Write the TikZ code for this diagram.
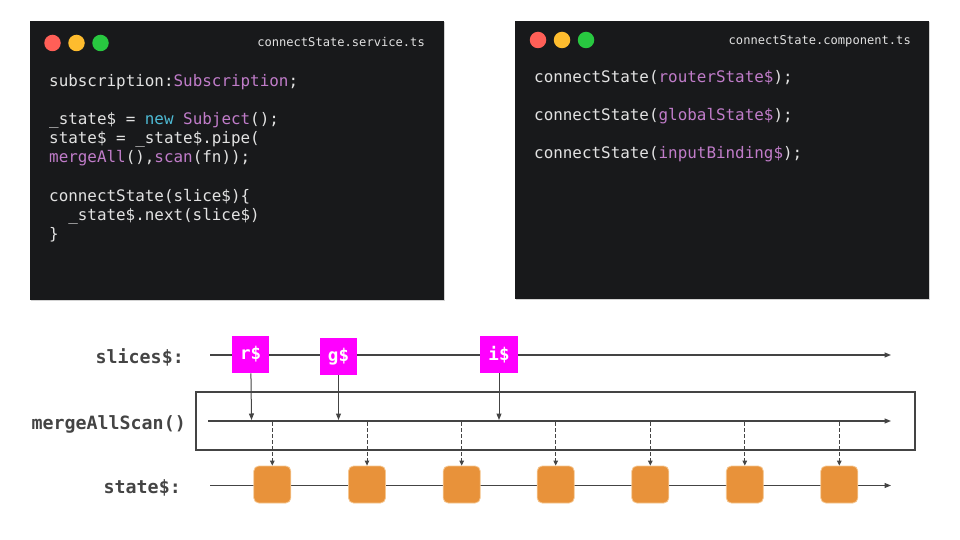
\documentclass[tikz,border=0pt]{standalone}
\usepackage{fontspec}
\usepackage{xcolor}
\usetikzlibrary{arrows.meta, shadows}
\newfontfamily\codefont{DejaVu Sans Mono}
\definecolor{codebg}{HTML}{18191B}
\definecolor{codetext}{HTML}{E2E2E2}
\definecolor{codepurple}{HTML}{C07CC9}
\definecolor{codecyan}{HTML}{4DB9D3}
\definecolor{dotred}{HTML}{FF5F57}
\definecolor{dotyellow}{HTML}{FEBC2E}
\definecolor{dotgreen}{HTML}{28C840}
\definecolor{linegrey}{HTML}{444444}
\definecolor{slicepink}{HTML}{FF00FF}
\definecolor{stateorange}{HTML}{E8923A}
\definecolor{stateedge}{HTML}{F5C690}
\newcommand{\codepurp}[1]{\textcolor{codepurple}{#1}}
\newcommand{\codecyan}[1]{\textcolor{codecyan}{#1}}

\begin{document}
\begin{tikzpicture}[x=1pt, y=-1pt,
    window/.style={fill=codebg, inner sep=0pt, drop shadow={opacity=0.35, shadow xshift=0.8pt, shadow yshift=-1pt}},
    dot/.style={circle, inner sep=0pt, minimum size=16.5pt},
    codeline/.style={anchor=base west, inner sep=0pt, text=codetext, font=\codefont\fontsize{15.9}{19}\selectfont},
    filename/.style={anchor=base east, inner sep=0pt, text=codetext, font=\codefont\fontsize{12.1}{14}\selectfont},
    streamlabel/.style={anchor=base east, inner sep=0pt, text=linegrey, font=\codefont\bfseries\fontsize{18.3}{22}\selectfont},
    slice/.style={fill=slicepink, minimum size=37.5pt, inner sep=0pt, text=white, font=\codefont\bfseries\fontsize{17.5}{20}\selectfont},
    statebox/.style={fill=stateorange, draw=stateedge, line width=0.8pt, rounded corners=5pt, minimum size=37pt, inner sep=0pt},
    flow/.style={draw=linegrey, line width=1.2pt, -{Triangle[length=6.5pt, width=5pt]}},
    emit/.style={draw=linegrey, line width=1pt, dash pattern=on 3.5pt off 2.5pt, -{Triangle[length=5pt, width=4.5pt]}}
]
    \useasboundingbox (0,0) rectangle (960,540);

    % service file
    \node[window, minimum width=414pt, minimum height=279.5pt] (service) at (237,160.5) {};
    \node[dot, fill=dotred] (sred) at (52.5,43) {};
    \node[dot, fill=dotyellow] (syellow) at (76.5,43) {};
    \node[dot, fill=dotgreen] (sgreen) at (100.5,43) {};
    \node[filename] (sname) at (425,47) {connectState.service.ts};
    \node[codeline] (s1) at (49,86.5) {subscription:\codepurp{Subscription};};
    \node[codeline] (s2) at (49,125) {\_state\$ = \codecyan{new} \codepurp{Subject}();};
    \node[codeline] (s3) at (49,144) {state\$ = \_state\$.pipe(};
    \node[codeline] (s4) at (49,163) {\codepurp{mergeAll}(),\codepurp{scan}(fn));};
    \node[codeline] (s5) at (49,201) {connectState(slice\$)\{};
    \node[codeline] (s6) at (68.1,220) {\_state\$.next(slice\$)};
    \node[codeline] (s7) at (49,239) {\}};

    % component file
    \node[window, minimum width=414pt, minimum height=278pt] (component) at (722,160) {};
    \node[dot, fill=dotred] (cred) at (538,40) {};
    \node[dot, fill=dotyellow] (cyellow) at (562,40) {};
    \node[dot, fill=dotgreen] (cgreen) at (586,40) {};
    \node[filename] (cname) at (911,45) {connectState.component.ts};
    \node[codeline] (c1) at (534,83) {connectState(\codepurp{routerState\$});};
    \node[codeline] (c2) at (534,121) {connectState(\codepurp{globalState\$});};
    \node[codeline] (c3) at (534,159) {connectState(\codepurp{inputBinding\$});};

    % marble diagram
    \node[streamlabel] (slices) at (184,363.3) {slices\$:};
    \node[streamlabel] (merge) at (186,429) {mergeAllScan()};
    \node[streamlabel] (state) at (181,493.3) {state\$:};

    \node[draw=linegrey, line width=1.2pt, minimum width=719pt, minimum height=58pt, inner sep=0pt] (mergebox) at (555.5,421) {};

    \coordinate (slicestart) at (210,355);
    \coordinate (sliceend) at (891,355);
    \coordinate (mergestart) at (208,421);
    \coordinate (mergeend) at (891,421);
    \coordinate (statestart) at (210,485.5);
    \coordinate (stateend) at (891,485.5);
    \draw[flow] (slicestart) -- (sliceend);
    \draw[flow] (mergestart) -- (mergeend);
    \draw[flow] (statestart) -- (stateend);

    \node[slice] (r) at (250.7,354.5) {r\$};
    \node[slice] (g) at (338.5,356.5) {g\$};
    \node[slice] (i) at (499,354.5) {i\$};

    \coordinate (rin) at (251.5,420);
    \coordinate (gin) at (338.5,420);
    \coordinate (iin) at (499,420);
    \draw[flow, line width=1pt] (r) -- (rin);
    \draw[flow, line width=1pt] (g) -- (gin);
    \draw[flow, line width=1pt] (i) -- (iin);

    \node[statebox] (st1) at (272.3,484.5) {};
    \node[statebox] (st2) at (367,484.5) {};
    \node[statebox] (st3) at (461.7,484.5) {};
    \node[statebox] (st4) at (555.7,484.5) {};
    \node[statebox] (st5) at (650.3,484.5) {};
    \node[statebox] (st6) at (744.8,484.5) {};
    \node[statebox] (st7) at (839.3,484.5) {};

    \coordinate (o1) at (272.3,422);
    \coordinate (o2) at (367,422);
    \coordinate (o3) at (461.7,422);
    \coordinate (o4) at (555.7,422);
    \coordinate (o5) at (650.3,422);
    \coordinate (o6) at (744.8,422);
    \coordinate (o7) at (839.3,422);
    \draw[emit] (o1) -- (st1);
    \draw[emit] (o2) -- (st2);
    \draw[emit] (o3) -- (st3);
    \draw[emit] (o4) -- (st4);
    \draw[emit] (o5) -- (st5);
    \draw[emit] (o6) -- (st6);
    \draw[emit] (o7) -- (st7);
\end{tikzpicture}
\end{document}
